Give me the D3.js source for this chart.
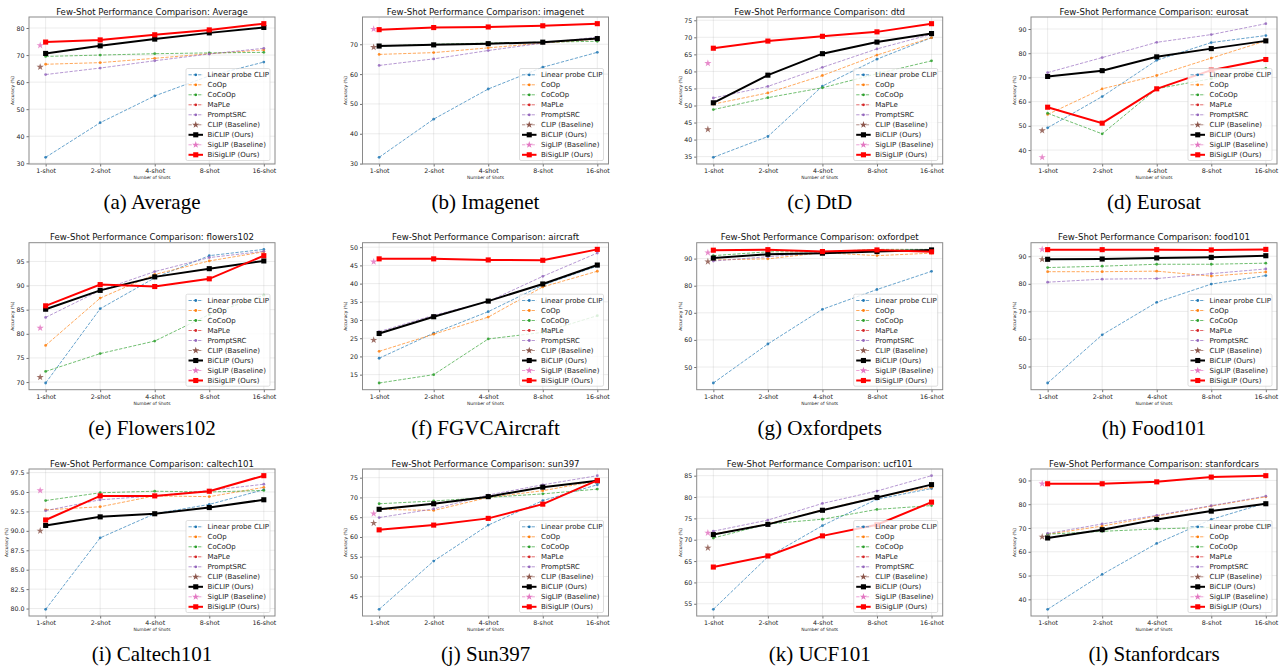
<!DOCTYPE html>
<html>
<head>
<meta charset="utf-8">
<script src="https://cdn.jsdelivr.net/npm/d3@7"></script>
<style>
  body { margin: 0; background: #fff; }
  text { font-family: "DejaVu Sans", sans-serif; }
  text.caption { font-family: "Liberation Serif", "Times New Roman", serif; }
</style>
</head>
<body>
<svg id="chart" width="1284" height="671"></svg>
<script>
const shots = ['1-shot', '2-shot', '4-shot', '8-shot', '16-shot'];
const datasets = ['Average', 'imagenet', 'dtd', 'eurosat', 'flowers102', 'aircraft',
  'oxfordpet', 'food101', 'caltech101', 'sun397', 'ucf101', 'stanfordcars'];
const captions = ['(a) Average', '(b) Imagenet', '(c) DtD', '(d) Eurosat', '(e) Flowers102',
  '(f) FGVCAircraft', '(g) Oxfordpets', '(h) Food101', '(i) Caltech101', '(j) Sun397',
  '(k) UCF101', '(l) Stanfordcars'];
const tickSteps = [10, 10, 5, 10, 5, 5, 10, 10, 2.5, 5, 5, 10];

// one row per dataset, values for 1/2/4/8/16 shots
const linearProbe = [
  [32.2, 45.0, 54.9, 62.3, 67.4], [32.1, 44.9, 55.0, 62.3, 67.3], [34.8, 40.9, 55.7, 63.6, 69.9],
  [49.2, 62.1, 77.1, 84.4, 87.3], [69.8, 85.2, 91.6, 96.2, 97.5], [19.5, 26.4, 32.3, 39.6, 44.8],
  [44.1, 58.5, 71.3, 78.6, 85.3], [44.0, 61.5, 73.3, 79.9, 83.0], [79.9, 89.1, 92.2, 93.4, 95.3],
  [41.7, 53.9, 63.0, 69.2, 73.2], [53.7, 66.0, 73.3, 79.5, 82.0], [35.8, 50.5, 63.5, 73.6, 80.5]
];
const coop = [
  [66.6, 67.2, 68.8, 70.5, 71.9], [66.6, 67.2, 68.8, 70.4, 71.7], [50.4, 53.7, 58.8, 64.8, 69.9],
  [54.7, 65.3, 70.8, 78.0, 85.1], [77.6, 87.4, 92.3, 95.1, 97.0], [21.4, 26.1, 30.8, 39.1, 43.4],
  [89.5, 89.9, 92.2, 91.1, 92.0], [84.4, 84.4, 84.6, 82.8, 84.3], [92.7, 93.1, 94.5, 94.4, 95.6],
  [67.0, 66.7, 70.0, 71.7, 74.2], [71.3, 73.7, 77.0, 80.0, 82.3], [67.4, 70.8, 75.0, 79.2, 83.1]
];
const cocoop = [
  [69.5, 70.0, 70.5, 70.8, 71.0], [69.4, 70.0, 70.4, 70.7, 71.0], [48.8, 52.3, 55.2, 59.3, 63.1],
  [55.2, 46.7, 65.3, 69.5, 73.7], [72.2, 75.9, 78.5, 84.0, 88.0], [12.7, 15.0, 24.8, 26.6, 31.2],
  [91.1, 92.5, 92.5, 93.4, 93.4], [85.9, 86.4, 87.1, 87.1, 87.5], [93.9, 94.9, 95.1, 95.0, 95.2],
  [68.4, 69.1, 70.0, 70.9, 72.1], [70.4, 73.7, 74.8, 77.1, 78.0], [67.4, 68.6, 69.6, 70.3, 71.2]
];
const maple = datasets.map(() => []); // no visible MaPLe marks in the figure
const promptSRC = [
  [62.8, 65.2, 67.9, 70.4, 72.5], [62.9, 65.1, 67.9, 70.4, 72.4], [52.2, 55.6, 61.2, 66.6, 70.9],
  [72.0, 78.2, 84.5, 87.7, 92.2], [83.4, 89.0, 92.9, 95.8, 97.1], [26.8, 31.3, 35.1, 42.0, 48.4],
  [89.1, 90.7, 92.2, 92.8, 93.1], [80.6, 81.7, 81.9, 83.7, 85.4], [92.6, 94.0, 94.5, 95.2, 96.0],
  [64.9, 67.1, 70.6, 73.2, 75.5], [72.0, 74.6, 78.5, 81.4, 85.0], [67.7, 71.7, 75.3, 79.4, 83.4]
];
const clipBaseline = [65.6, 69.0, 43.0, 48.1, 71.0, 24.5, 88.9, 88.9, 90.0, 63.5, 68.1, 66.3];
const biclip = [
  [70.6, 73.4, 75.9, 78.2, 80.2], [69.4, 69.8, 70.2, 70.7, 71.9], [50.8, 58.9, 65.2, 68.6, 71.1],
  [70.4, 72.8, 78.5, 81.9, 85.1], [85.1, 89.0, 91.8, 93.5, 95.1], [26.3, 30.9, 35.2, 39.9, 45.1],
  [90.2, 91.6, 92.0, 92.6, 93.2], [88.9, 89.0, 89.4, 89.6, 90.2], [90.7, 91.8, 92.2, 93.0, 94.0],
  [67.0, 68.4, 70.2, 72.6, 74.2], [71.2, 73.6, 76.9, 79.9, 82.9], [65.8, 69.3, 73.6, 77.1, 80.2]
];
const siglipBaseline = [73.6, 75.1, 62.4, 37.0, 81.2, 46.0, 92.2, 92.5, 95.2, 65.9, 71.6, 88.6];
const bisiglip = [
  [74.8, 75.6, 77.5, 79.3, 81.6], [74.9, 75.6, 75.8, 76.2, 76.9], [66.8, 68.9, 70.3, 71.6, 74.0],
  [57.7, 51.1, 65.3, 73.0, 77.4], [85.8, 90.2, 89.8, 91.4, 96.2], [46.8, 46.8, 46.5, 46.4, 49.4],
  [93.1, 93.3, 92.6, 93.2, 92.5], [92.4, 92.4, 92.4, 92.3, 92.5], [91.4, 94.5, 94.5, 95.1, 97.1],
  [61.8, 63.0, 64.7, 68.3, 74.3], [63.6, 66.2, 70.9, 73.5, 78.8], [88.6, 88.6, 89.4, 91.4, 92.0]
];

const series = [
  { name: 'Linear probe CLIP', color: '#1f77b4', kind: 'dash', data: linearProbe },
  { name: 'CoOp', color: '#ff7f0e', kind: 'dash', data: coop },
  { name: 'CoCoOp', color: '#2ca02c', kind: 'dash', data: cocoop },
  { name: 'MaPLe', color: '#d62728', kind: 'dash', data: maple },
  { name: 'PromptSRC', color: '#9467bd', kind: 'dash', data: promptSRC },
  { name: 'CLIP (Baseline)', color: '#8c564b', kind: 'star', data: clipBaseline },
  { name: 'BiCLIP (Ours)', color: '#000000', kind: 'bold', data: biclip },
  { name: 'SigLIP (Baseline)', color: '#e377c2', kind: 'star', data: siglipBaseline },
  { name: 'BiSigLIP (Ours)', color: '#ff0000', kind: 'bold', data: bisiglip }
];

const svg = d3.select('#chart');
svg.append('rect').attr('width', 1284).attr('height', 671).attr('fill', '#fff');

const colLeft = [29, 362.5, 696.7, 1031];
const rowTop = [17, 242.7, 469];
const W = 246, H = 147;
const starX = -0.1;

const star = d3.symbol().type(d3.symbolStar).size(16);
const square = d3.symbol().type(d3.symbolSquare).size(26);

datasets.forEach((ds, i) => {
  const g = svg.append('g')
    .attr('transform', `translate(${colLeft[i % 4]},${rowTop[Math.floor(i / 4)]})`);

  // x: categorical index with matplotlib-like 5% margins
  const xPad = (4 - starX) * 0.05;
  const x = d3.scaleLinear().domain([starX - xPad, 4 + xPad]).range([0, W]);

  const vals = [];
  series.forEach(s => {
    const d = s.data[i];
    if (Array.isArray(d)) vals.push(...d); else vals.push(d);
  });
  const [lo, hi] = d3.extent(vals);
  const yPad = (hi - lo) * 0.05;
  const y = d3.scaleLinear().domain([lo - yPad, hi + yPad]).range([H, 0]);

  const step = tickSteps[i];
  const yTicks = d3.range(Math.ceil(y.domain()[0] / step) * step, y.domain()[1] + 1e-9, step);
  const fmt = step % 1 !== 0 ? d3.format('.1f') : d3.format('d');

  // grid
  g.append('g').selectAll('line').data(yTicks).join('line')
    .attr('x1', 0).attr('x2', W).attr('y1', d => y(d)).attr('y2', d => y(d))
    .attr('stroke', '#b0b0b0').attr('stroke-opacity', 0.3).attr('stroke-width', 0.8);
  g.append('g').selectAll('line').data(d3.range(5)).join('line')
    .attr('y1', 0).attr('y2', H).attr('x1', d => x(d)).attr('x2', d => x(d))
    .attr('stroke', '#b0b0b0').attr('stroke-opacity', 0.3).attr('stroke-width', 0.8);

  // axes
  const ya = g.append('g').call(d3.axisLeft(y).tickValues(yTicks).tickFormat(fmt).tickSize(2.5).tickPadding(2));
  const xa = g.append('g').attr('transform', `translate(0,${H})`)
    .call(d3.axisBottom(x).tickValues(d3.range(5)).tickFormat(d => shots[d]).tickSize(2.5).tickPadding(2));
  [ya, xa].forEach(a => {
    a.select('.domain').remove();
    a.selectAll('line').attr('stroke', '#333').attr('stroke-width', 0.7);
    a.selectAll('text').attr('font-size', 6.3).attr('fill', '#222')
      .attr('font-family', 'DejaVu Sans, sans-serif');
  });
  const yLabelX = ya.node().getBBox().x - 2.5;

  g.append('rect').attr('width', W).attr('height', H)
    .attr('fill', 'none').attr('stroke', '#8a8a8a').attr('stroke-width', 1);

  // series
  const line = d3.line().x((d, j) => x(j)).y(d => y(d));
  series.forEach(s => {
    const d = s.data[i];
    if (s.kind === 'star') {
      g.append('path').attr('d', star)
        .attr('transform', `translate(${x(starX)},${y(d)})`)
        .attr('fill', s.color).attr('opacity', 0.85);
      return;
    }
    if (!d.length) return;
    if (s.kind === 'dash') {
      g.append('path').datum(d).attr('d', line).attr('fill', 'none')
        .attr('stroke', s.color).attr('stroke-width', 0.9)
        .attr('stroke-dasharray', '3.3,1.5').attr('opacity', 0.75);
      g.append('g').selectAll('circle').data(d).join('circle')
        .attr('cx', (v, j) => x(j)).attr('cy', v => y(v)).attr('r', 1.4)
        .attr('fill', s.color).attr('opacity', 0.85);
    } else {
      g.append('path').datum(d).attr('d', line).attr('fill', 'none')
        .attr('stroke', s.color).attr('stroke-width', 2);
      g.append('g').selectAll('path').data(d).join('path').attr('d', square)
        .attr('transform', (v, j) => `translate(${x(j)},${y(v)})`)
        .attr('fill', s.color);
    }
  });

  // legend
  const lw = 84, lh = 92;
  const lg = g.append('g').attr('transform', `translate(${W - 5 - lw},${H - 3.5 - lh})`);
  lg.append('rect').attr('width', lw).attr('height', lh).attr('rx', 1.5)
    .attr('fill', '#fff').attr('fill-opacity', 0.8).attr('stroke', '#d0d0d0').attr('stroke-width', 0.7);
  series.forEach((s, k) => {
    const cy = 6.3 + k * 10;
    const row = lg.append('g');
    row.append('line').attr('x1', 2.5).attr('x2', 17).attr('y1', cy).attr('y2', cy)
      .attr('stroke', s.color)
      .attr('stroke-width', s.kind === 'bold' ? 2 : 0.9)
      .attr('stroke-dasharray', s.kind === 'bold' ? null : '3.3,1.5')
      .attr('opacity', s.kind === 'bold' ? 1 : 0.75);
    if (s.kind === 'star') {
      row.append('path').attr('d', star).attr('transform', `translate(9.75,${cy})`).attr('fill', s.color);
    } else if (s.kind === 'bold') {
      row.append('path').attr('d', square).attr('transform', `translate(9.75,${cy})`).attr('fill', s.color);
    } else {
      row.append('circle').attr('cx', 9.75).attr('cy', cy).attr('r', 1.4).attr('fill', s.color);
    }
    row.append('text').attr('x', 21.5).attr('y', cy).attr('dy', '0.35em')
      .attr('font-size', 7).attr('fill', '#222').text(s.name);
  });

  // titles and labels
  g.append('text').attr('x', W / 2).attr('y', -2.3).attr('text-anchor', 'middle')
    .attr('font-size', 8.6).attr('fill', '#111').text('Few-Shot Performance Comparison: ' + ds);
  g.append('text').attr('x', W / 2).attr('y', H + 15).attr('text-anchor', 'middle')
    .attr('font-size', 4.4).attr('fill', '#222').text('Number of Shots');
  g.append('text').attr('transform', `translate(${yLabelX},${H / 2}) rotate(-90)`)
    .attr('text-anchor', 'middle').attr('font-size', 4.4).attr('fill', '#222').text('Accuracy (%)');
  g.append('text').attr('class', 'caption').attr('x', W / 2).attr('y', H + 45)
    .attr('text-anchor', 'middle').attr('font-size', 21).attr('fill', '#000').text(captions[i]);
});
</script>
</body>
</html>
